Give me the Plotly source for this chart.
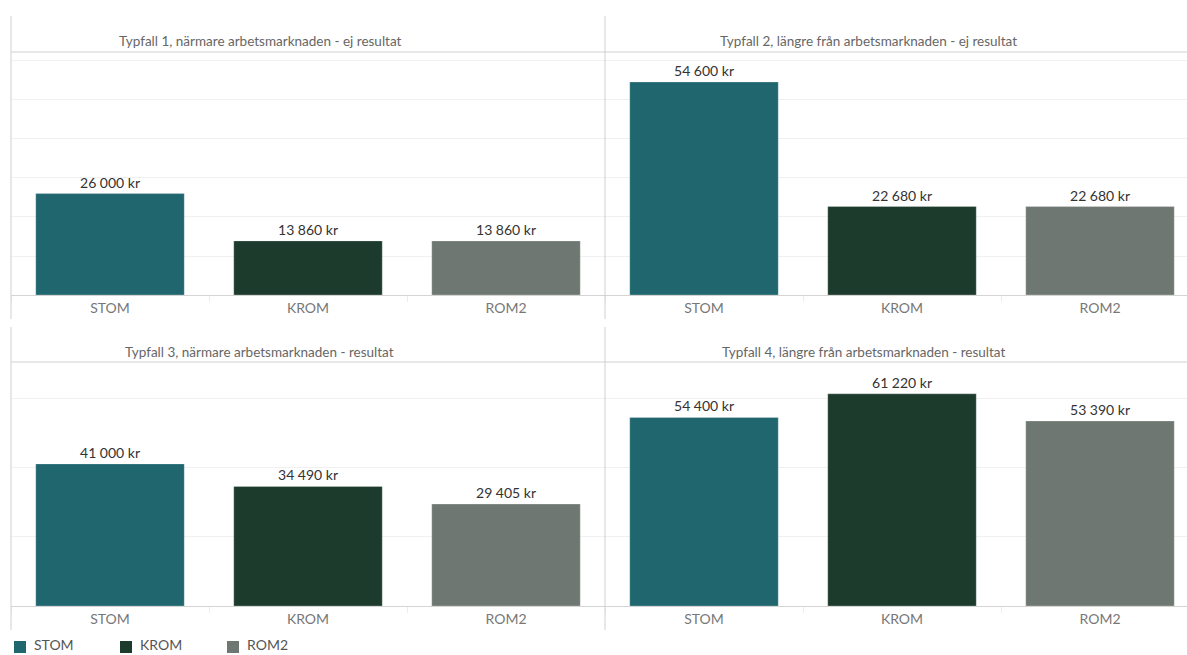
import plotly.graph_objects as go

W, H = 1187, 655

# Categories and values (kr)
categories = ["STOM", "KROM", "ROM2"]
colors = ["#1F666E", "#1C3B2C", "#6E7771"]
panel_titles = [
    "Typfall 1, närmare arbetsmarknaden - ej resultat",
    "Typfall 2, längre från arbetsmarknaden - ej resultat",
    "Typfall 3, närmare arbetsmarknaden - resultat",
    "Typfall 4, längre från arbetsmarknaden - resultat",
]
typfall_1 = [26000, 13860, 13860]
typfall_2 = [54600, 22680, 22680]
typfall_3 = [41000, 34490, 29405]
typfall_4 = [54400, 61220, 53390]
panel_values = [typfall_1, typfall_2, typfall_3, typfall_4]

FONT = "Lato, 'Open Sans', sans-serif"


def px_x(v):
    return v / W


def px_y(v):
    return 1 - v / H


# pixel geometry of the four panels
x_left = (11, 605)
x_right = (605, W)
y_top = (52, 295)
y_bot = (362, 606)
band = 198.0

panels = [
    dict(xd=x_left, yd=y_top, ymax=62300, dtick=10000, title_x=260, title_y=41),
    dict(xd=x_right, yd=y_top, ymax=62300, dtick=10000, title_x=868, title_y=41),
    dict(xd=x_left, yd=y_bot, ymax=70400, dtick=20000, title_x=259, title_y=352),
    dict(xd=x_right, yd=y_bot, ymax=70400, dtick=20000, title_x=863, title_y=352),
]

fig = go.Figure()
annotations = []
shapes = []

for i, (p, vals, title) in enumerate(zip(panels, panel_values, panel_titles)):
    n = "" if i == 0 else str(i + 1)
    xa, ya = "x" + n, "y" + n
    for j, cat in enumerate(categories):
        fig.add_trace(go.Bar(
            x=[cat], y=[vals[j]],
            xaxis=xa, yaxis=ya,
            name=cat, showlegend=False,
            marker=dict(color=colors[j], line=dict(color="rgba(255,255,255,0.25)", width=1)),
            width=0.75,
            texttemplate="%{y:,.0f} kr",
            textposition="outside",
            textfont=dict(family=FONT, size=14, color="#333333"),
            cliponaxis=False,
            hovertemplate="%{x}: %{y:,.0f} kr<extra></extra>",
        ))
    width_px = p["xd"][1] - p["xd"][0]
    fig.layout["xaxis" + n] = dict(
        domain=[px_x(p["xd"][0]), px_x(p["xd"][1])],
        anchor=ya,
        type="category",
        categoryorder="array", categoryarray=categories,
        range=[-0.5, -0.5 + width_px / band],
        showline=True, linecolor="#d4d4d4", linewidth=1,
        ticks="outside", tickson="boundaries", ticklen=6, tickcolor="#ececec",
        tickfont=dict(family=FONT, size=14, color="#777777"),
        showgrid=False, zeroline=False, fixedrange=True,
    )
    fig.layout["yaxis" + n] = dict(
        domain=[px_y(p["yd"][1]), px_y(p["yd"][0])],
        anchor=xa,
        range=[0, p["ymax"]],
        dtick=p["dtick"],
        showticklabels=False,
        showgrid=True, gridcolor="#f0f0f0", gridwidth=1,
        zeroline=False, showline=False, fixedrange=True,
    )
    annotations.append(dict(
        text=title, xref="paper", yref="paper",
        x=px_x(p["title_x"]), y=px_y(p["title_y"]),
        xanchor="center", yanchor="middle", showarrow=False,
        font=dict(family=FONT, size=13.5, color="#666666"),
    ))

# panel frame lines: header separators and vertical dividers
line_style = dict(color="#d0d0d0", width=1)
for yy in (52, 362):
    shapes.append(dict(type="line", xref="paper", yref="paper",
                       x0=px_x(11), x1=1, y0=px_y(yy), y1=px_y(yy), line=line_style))
for xx in (11, 605):
    shapes.append(dict(type="line", xref="paper", yref="paper",
                       x0=px_x(xx), x1=px_x(xx), y0=px_y(16), y1=px_y(319), line=line_style))
    shapes.append(dict(type="line", xref="paper", yref="paper",
                       x0=px_x(xx), x1=px_x(xx), y0=px_y(327), y1=px_y(630), line=line_style))

# colour legend along the bottom edge
legend_x = [14, 120, 227]
for lx, cat, col in zip(legend_x, categories, colors):
    shapes.append(dict(type="rect", xref="paper", yref="paper",
                       x0=px_x(lx), x1=px_x(lx + 12), y0=px_y(653), y1=px_y(641),
                       fillcolor=col, line=dict(width=0)))
    annotations.append(dict(
        text=cat, xref="paper", yref="paper",
        x=px_x(lx + 18), y=px_y(644.5), xanchor="left", yanchor="middle",
        showarrow=False, font=dict(family=FONT, size=14, color="#555555"),
    ))

fig.update_layout(
    width=W, height=H,
    margin=dict(l=0, r=0, t=0, b=0, autoexpand=False),
    paper_bgcolor="white", plot_bgcolor="white",
    separators=", ",
    barmode="group",
    font=dict(family=FONT, color="#555555"),
    annotations=annotations,
    shapes=shapes,
    showlegend=False,
)

fig.write_html("out.html")
